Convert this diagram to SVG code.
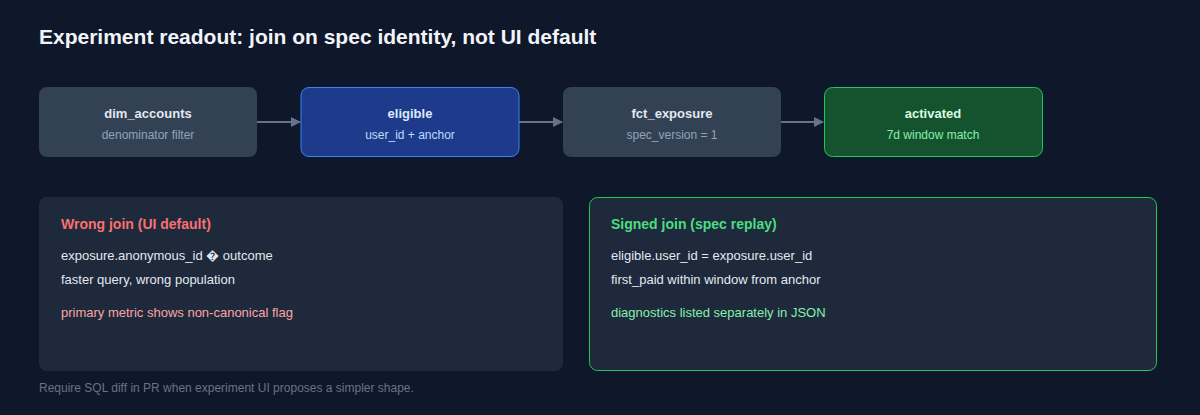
<svg xmlns="http://www.w3.org/2000/svg" width="1200" height="415" viewBox="0 0 1200 415">
<defs>
<marker id="ah" markerWidth="10" markerHeight="10" refX="9" refY="5" orient="auto" markerUnits="userSpaceOnUse"><path d="M0,0 L10,5 L0,10 z" fill="#64748b"/></marker>
<style>
text{font-family:"Liberation Sans",Arial,sans-serif}
.nt{font-size:13px;font-weight:bold;text-anchor:middle}
.ns{font-size:12px;text-anchor:middle}
.ph{font-size:14px;font-weight:bold}
.pl{font-size:13px;fill:#e2e8f0}
.conn{stroke:#64748b;stroke-width:2;fill:none}
</style>
</defs>
<rect width="1200" height="415" fill="#0f172a"/>
<text x="39" y="44" font-size="21" font-weight="bold" fill="#f1f5f9">Experiment readout: join on spec identity, not UI default</text>
<g id="connectors">
<line class="conn" x1="257" y1="122" x2="300" y2="122" marker-end="url(#ah)"/>
<line class="conn" x1="519" y1="122" x2="562" y2="122" marker-end="url(#ah)"/>
<line class="conn" x1="781" y1="122" x2="823" y2="122" marker-end="url(#ah)"/>
</g>
<g id="dim_accounts"><rect x="39" y="87" width="218" height="70" rx="8" fill="#334155"/>
<text class="nt" x="148" y="118" fill="#e2e8f0">dim_accounts</text><text class="ns" x="148" y="139" fill="#94a3b8">denominator filter</text></g>
<g id="eligible"><rect x="301" y="87.5" width="218" height="69" rx="8" fill="#1e3a8a" stroke="#3b82f6" stroke-width="1"/>
<text class="nt" x="410" y="118" fill="#dbeafe">eligible</text><text class="ns" x="410" y="139" fill="#bfdbfe">user_id + anchor</text></g>
<g id="fct_exposure"><rect x="563" y="87" width="218" height="70" rx="8" fill="#334155"/>
<text class="nt" x="672" y="118" fill="#e2e8f0">fct_exposure</text><text class="ns" x="672" y="139" fill="#94a3b8">spec_version = 1</text></g>
<g id="activated"><rect x="824.5" y="87.5" width="218" height="69" rx="8" fill="#14532d" stroke="#22c55e" stroke-width="1"/>
<text class="nt" x="933" y="118" fill="#dcfce7">activated</text><text class="ns" x="933" y="139" fill="#86efac">7d window match</text></g>
<g id="wrong_join"><rect x="39" y="197" width="524" height="174" rx="8" fill="#1e293b"/>
<text class="ph" x="61" y="229" fill="#f87171">Wrong join (UI default)</text>
<text class="pl" x="61" y="260">exposure.anonymous_id � outcome</text>
<text class="pl" x="61" y="284">faster query, wrong population</text>
<text class="pl" x="61" y="317" fill="#fca5a5" style="fill:#fca5a5">primary metric shows non-canonical flag</text></g>
<g id="signed_join"><rect x="589.5" y="197.5" width="567" height="173" rx="8" fill="#1e293b" stroke="#22c55e" stroke-width="1"/>
<text class="ph" x="611" y="229" fill="#4ade80">Signed join (spec replay)</text>
<text class="pl" x="611" y="260">eligible.user_id = exposure.user_id</text>
<text class="pl" x="611" y="284">first_paid within window from anchor</text>
<text class="pl" x="611" y="317" style="fill:#86efac">diagnostics listed separately in JSON</text></g>
<text x="39" y="392" font-size="12" fill="#64748b">Require SQL diff in PR when experiment UI proposes a simpler shape.</text>
</svg>
